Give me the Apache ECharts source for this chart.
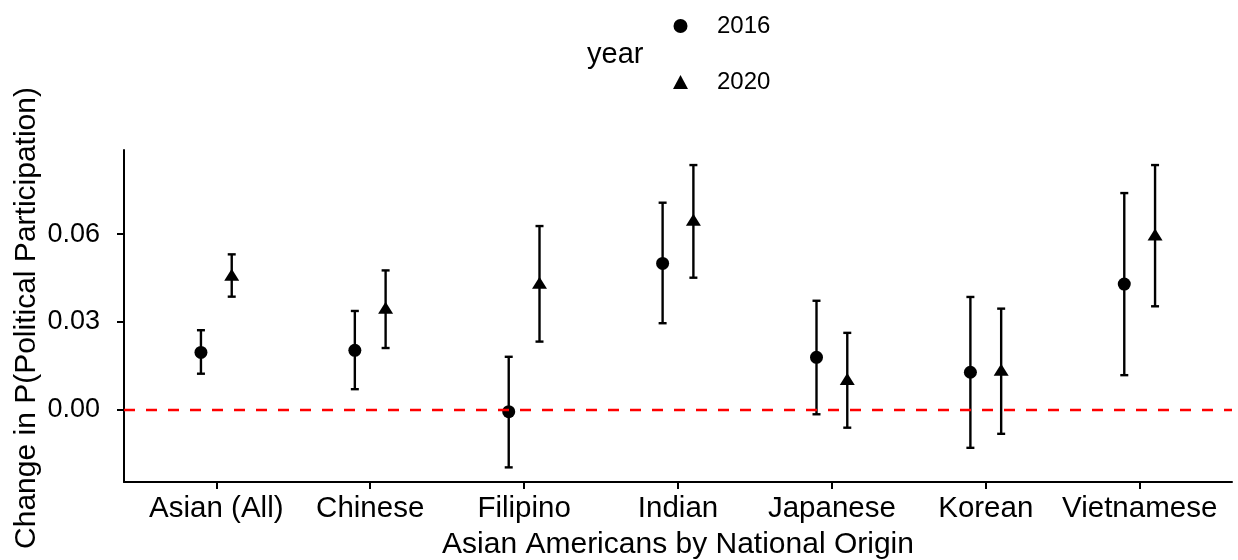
<!DOCTYPE html>
<html>
<head>
<meta charset="utf-8">
<script src="https://cdn.jsdelivr.net/npm/echarts@6/dist/echarts.min.js"></script>
<style>
html,body{margin:0;padding:0;background:#fff;}
#chart{width:1238px;height:560px;}
</style>
</head>
<body>
<div id="chart"></div>
<script>
const categories = ['Asian (All)', 'Chinese', 'Filipino', 'Indian', 'Japanese', 'Korean', 'Vietnamese'];
const years = ['2016', '2020'];
const est2016 = [0.0195, 0.0202, -0.0008, 0.0500, 0.0178, 0.0127, 0.0429];
const lo2016  = [0.0122, 0.0069, -0.0199, 0.0295, -0.0017, -0.0132, 0.0117];
const hi2016  = [0.0271, 0.0337, 0.0180, 0.0708, 0.0372, 0.0385, 0.0741];
const est2020 = [0.0454, 0.0341, 0.0427, 0.0643, 0.0097, 0.0129, 0.0592];
const lo2020  = [0.0386, 0.0210, 0.0232, 0.0451, -0.0063, -0.0084, 0.0353];
const hi2020  = [0.0531, 0.0476, 0.0628, 0.0837, 0.0262, 0.0345, 0.0837];
const yTicks = [0, 0.03, 0.06];
const xTitle = 'Asian Americans by National Origin';
const yTitle = 'Change in P(Political Participation)';
const legendTitle = 'year';

const FONT = 'Liberation Sans, Arial, sans-serif';
const DODGE = 0.1;

function pts(est, off) { return est.map((v, i) => [i + off, v]); }
function bars(lo, hi, off) { return lo.map((v, i) => [i + off, v, hi[i]]); }

function errRender(params, api) {
  const x = api.value(0);
  const p1 = api.coord([x, api.value(1)]);
  const p2 = api.coord([x, api.value(2)]);
  const hw = 4;
  const st = { stroke: '#000', lineWidth: 2.4 };
  return {
    type: 'group',
    children: [
      { type: 'line', shape: { x1: p1[0], y1: p1[1], x2: p2[0], y2: p2[1] }, style: st },
      { type: 'line', shape: { x1: p1[0] - hw, y1: p1[1], x2: p1[0] + hw, y2: p1[1] }, style: st },
      { type: 'line', shape: { x1: p2[0] - hw, y1: p2[1], x2: p2[0] + hw, y2: p2[1] }, style: st }
    ]
  };
}

const chart = echarts.init(document.getElementById('chart'), null, { renderer: 'canvas' });
chart.setOption({
  animation: false,
  backgroundColor: '#fff',
  grid: { left: 124, right: 6, top: 150, bottom: 78, containLabel: false, outerBoundsMode: 'none' },
  legend: {
    orient: 'vertical',
    left: 673,
    top: 12,
    padding: 0,
    itemWidth: 15,
    itemHeight: 14,
    itemGap: 28,
    selectedMode: false,
    data: [{ name: years[0], icon: 'circle' }, { name: years[1], icon: 'triangle' }],
    textStyle: { fontFamily: FONT, fontSize: 24, color: '#000', lineHeight: 28, padding: [0, 0, 0, 24] }
  },
  graphic: [
    {
      type: 'text', left: 587, top: 40,
      style: { text: legendTitle, font: '29px ' + FONT, fill: '#000' }
    },
    {
      type: 'text', x: 27, y: 318, rotation: Math.PI / 2,
      style: { text: yTitle, font: '30px ' + FONT, fill: '#000', align: 'center', verticalAlign: 'middle' }
    }
  ],
  xAxis: {
    type: 'value',
    min: -0.6, max: categories.length - 1 + 0.6,
    name: xTitle,
    nameLocation: 'middle',
    nameGap: 48,
    nameTextStyle: { fontFamily: FONT, fontSize: 30, color: '#000' },
    axisLine: { show: true, onZero: false, lineStyle: { color: '#000', width: 2 } },
    axisTick: { show: true, length: 7, lineStyle: { color: '#000', width: 2 }, customValues: categories.map((c, i) => i) },
    axisLabel: {
      customValues: categories.map((c, i) => i),
      formatter: v => categories[Math.round(v)] || '',
      fontFamily: FONT, fontSize: 29.5, color: '#000', margin: 12
    },
    splitLine: { show: false }
  },
  yAxis: {
    type: 'value',
    min: -0.02491, max: 0.08886,
    axisLine: { show: true, onZero: false, lineStyle: { color: '#000', width: 2 } },
    axisTick: { show: true, length: 7, lineStyle: { color: '#000', width: 2 }, customValues: yTicks },
    axisLabel: {
      customValues: yTicks,
      formatter: v => v.toFixed(2),
      fontFamily: FONT, fontSize: 27, color: '#000', margin: 24
    },
    splitLine: { show: false }
  },
  series: [
    {
      type: 'custom', name: 'err2016', renderItem: errRender,
      data: bars(lo2016, hi2016, -DODGE), silent: true, z: 2
    },
    {
      type: 'custom', name: 'err2020', renderItem: errRender,
      data: bars(lo2020, hi2020, DODGE), silent: true, z: 2
    },
    {
      type: 'scatter', name: years[0], data: pts(est2016, -DODGE),
      symbol: 'circle', symbolSize: 13, itemStyle: { color: '#000', opacity: 1 }, z: 3
    },
    {
      type: 'scatter', name: years[1], data: pts(est2020, DODGE),
      symbol: 'triangle', symbolSize: [15, 12], symbolOffset: [0, -2],
      itemStyle: { color: '#000', opacity: 1 }, z: 3
    },
    {
      type: 'scatter', name: 'zero', data: [], z: 5, silent: true,
      markLine: {
        silent: true, symbol: ['none', 'none'], label: { show: false },
        lineStyle: { color: '#FF0000', width: 2.3, type: [11, 11], opacity: 1 },
        emphasis: { disabled: true },
        data: [{ yAxis: 0 }]
      }
    }
  ]
});
</script>
</body>
</html>
